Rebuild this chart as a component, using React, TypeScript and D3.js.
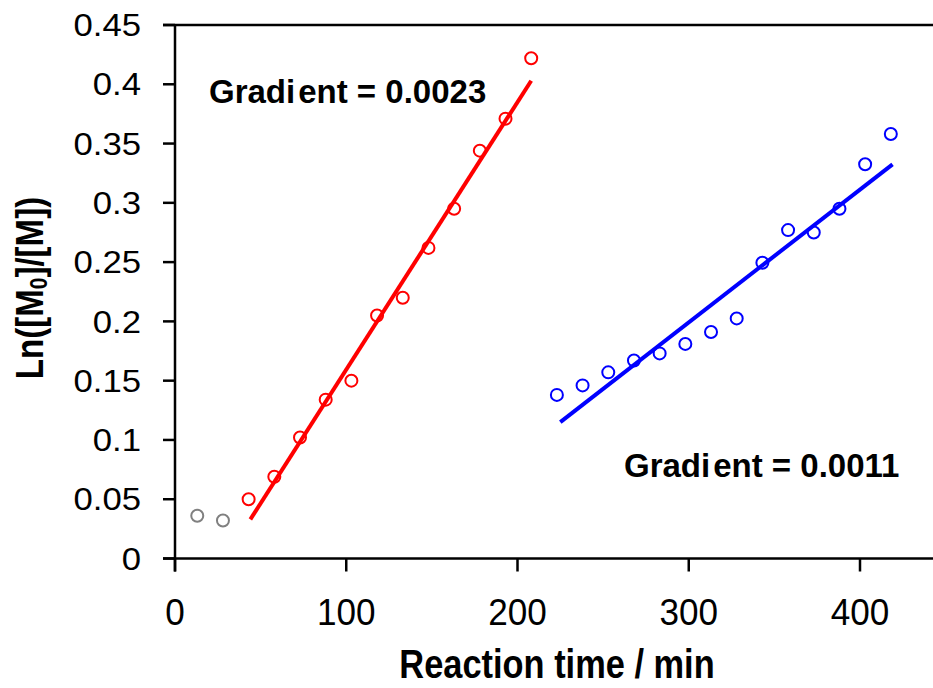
import React from "react";
import * as d3 from "d3";

const grayTime = [13, 28];
const grayValue = [0.036, 0.032];
const redTime = [43, 58, 73, 88, 103, 118, 133, 148, 163, 178, 193, 208];
const redValue = [0.05, 0.069, 0.102, 0.134, 0.15, 0.205, 0.22, 0.262, 0.295, 0.344, 0.371, 0.422];
const blueTime = [223, 238, 253, 268, 283, 298, 313, 328, 343, 358, 373, 388, 403, 418];
const blueValue = [0.138, 0.146, 0.157, 0.167, 0.173, 0.181, 0.191, 0.2025, 0.2495, 0.277, 0.275, 0.295, 0.3325, 0.358];
const redFit = [[44, 0.033], [208, 0.403]];
const blueFit = [[225, 0.115], [419, 0.3325]];
const xTicks = [0, 100, 200, 300, 400];
const yTicks = [0, 0.05, 0.1, 0.15, 0.2, 0.25, 0.3, 0.35, 0.4, 0.45];
const redLabel = ["Gradi", "ent = 0.0023"];
const blueLabel = ["Gradi", "ent = 0.0011"];

export default function App() {
  const x = d3.scaleLinear().domain([0, 400]).range([175, 860]);
  const y = d3.scaleLinear().domain([0, 0.45]).range([558.5, 25]);
  const line = d3.line<number[]>().x((d) => x(d[0])).y((d) => y(d[1]));
  const font = "Arial, 'Liberation Sans', sans-serif";
  const series = [
    { t: grayTime, v: grayValue, c: "#808080" },
    { t: redTime, v: redValue, c: "#ff0000" },
    { t: blueTime, v: blueValue, c: "#0000ff" },
  ];
  return (
    <svg width={933} height={688} style={{ position: "absolute", left: 0, top: 0 }} fontFamily={font}>
      <rect width={933} height={688} fill="#fff" />
      <line x1={163} x2={933} y1={y(0.45)} y2={y(0.45)} stroke="#000" strokeWidth={2.5} />
      <line x1={175} x2={175} y1={y(0.45)} y2={y(0) + 13} stroke="#000" strokeWidth={2.5} />
      <line x1={163} x2={933} y1={y(0)} y2={y(0)} stroke="#000" strokeWidth={2.5} />
      {yTicks.map((t) => (
        <g key={"y" + t}>
          <line x1={163} x2={175} y1={y(t)} y2={y(t)} stroke="#000" strokeWidth={2.5} />
          <text transform={`translate(141,${y(t)}) scale(1.12,1)`} dy="0.36em" textAnchor="end" fontSize={31}>{String(t)}</text>
        </g>
      ))}
      {xTicks.map((t) => (
        <g key={"x" + t}>
          <line x1={x(t)} x2={x(t)} y1={y(0)} y2={y(0) + 13} stroke="#000" strokeWidth={2.5} />
          <text transform={`translate(${x(t)},625) scale(0.95,1)`} textAnchor="middle" fontSize={37}>{String(t)}</text>
        </g>
      ))}
      <path d={line(redFit as number[][]) || ""} stroke="#ff0000" strokeWidth={4} fill="none" />
      <path d={line(blueFit as number[][]) || ""} stroke="#0000ff" strokeWidth={4} fill="none" />
      {series.map((s, si) =>
        s.t.map((t, i) => (
          <circle key={si + "-" + i} cx={x(t)} cy={y(s.v[i])} r={6} fill="none" stroke={s.c} strokeWidth={2} />
        ))
      )}
      <text x={209} y={103} fontSize={33} fontWeight="bold">
        {redLabel[0]}<tspan dx={3}>{redLabel[1]}</tspan>
      </text>
      <text x={624} y={477} fontSize={33} fontWeight="bold">
        {blueLabel[0]}<tspan dx={3}>{blueLabel[1]}</tspan>
      </text>
      <text transform="translate(557,678) scale(0.86,1)" textAnchor="middle" fontSize={40} fontWeight="bold">Reaction time / min</text>
      <text transform="translate(43,288) rotate(-90) scale(0.87,1)" textAnchor="middle" fontSize={38} fontWeight="bold">
        Ln([M<tspan fontSize={24} dy={4}>0</tspan><tspan dy={-4}>]/[M])</tspan>
      </text>
    </svg>
  );
}
